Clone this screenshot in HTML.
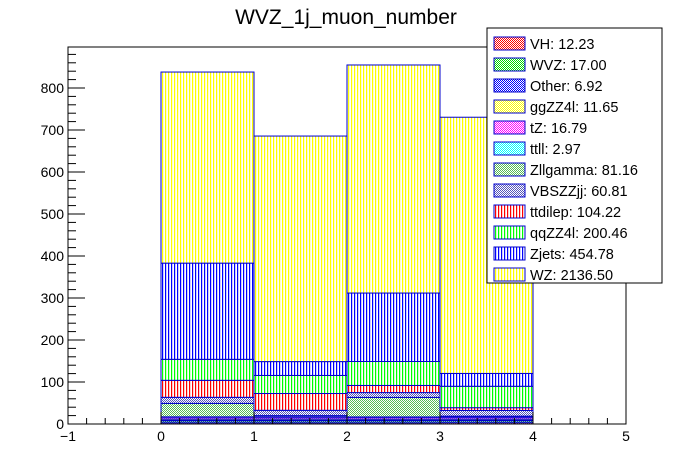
<!DOCTYPE html>
<html><head><meta charset="utf-8"><style>
body{margin:0;background:#fff;}
svg{display:block;font-family:"Liberation Sans",Arial,sans-serif;}
</style></head><body>
<svg id="c" width="696" height="472">
<defs>
<pattern id="vY" width="3" height="4" patternUnits="userSpaceOnUse"><rect width="3" height="4" fill="#fff"/><rect width="1.2" height="4" fill="#ffff00"/></pattern>
<pattern id="vB" width="3" height="4" patternUnits="userSpaceOnUse"><rect width="3" height="4" fill="#fff"/><rect width="1.2" height="4" fill="#0000ff"/></pattern>
<pattern id="vG" width="3" height="4" patternUnits="userSpaceOnUse"><rect width="3" height="4" fill="#fff"/><rect width="1.2" height="4" fill="#00ff00"/></pattern>
<pattern id="vR" width="3" height="4" patternUnits="userSpaceOnUse"><rect width="3" height="4" fill="#fff"/><rect width="1.2" height="4" fill="#ff0000"/></pattern>
<pattern id="xR" width="2" height="2" patternUnits="userSpaceOnUse"><rect width="2" height="2" fill="#fff"/><rect width="1" height="1" fill="#ff0000"/><rect x="1" y="1" width="1" height="1" fill="#ff0000"/></pattern>
<pattern id="xG" width="2" height="2" patternUnits="userSpaceOnUse"><rect width="2" height="2" fill="#fff"/><rect width="1" height="1" fill="#00dd00"/><rect x="1" y="1" width="1" height="1" fill="#00dd00"/></pattern>
<pattern id="xB" width="2" height="2" patternUnits="userSpaceOnUse"><rect width="2" height="2" fill="#fff"/><rect width="1" height="1" fill="#0000ff"/><rect x="1" y="1" width="1" height="1" fill="#0000ff"/></pattern>
<pattern id="xY" width="2" height="2" patternUnits="userSpaceOnUse"><rect width="2" height="2" fill="#fff"/><rect width="1" height="1" fill="#ffff00"/><rect x="1" y="1" width="1" height="1" fill="#ffff00"/></pattern>
<pattern id="xM" width="2" height="2" patternUnits="userSpaceOnUse"><rect width="2" height="2" fill="#fff"/><rect width="1" height="1" fill="#ff00ff"/><rect x="1" y="1" width="1" height="1" fill="#ff00ff"/></pattern>
<pattern id="xC" width="2" height="2" patternUnits="userSpaceOnUse"><rect width="2" height="2" fill="#fff"/><rect width="1" height="1" fill="#00ffff"/><rect x="1" y="1" width="1" height="1" fill="#00ffff"/></pattern>
<pattern id="xZ" width="2" height="2" patternUnits="userSpaceOnUse"><rect width="2" height="2" fill="#fff"/><rect width="1" height="1" fill="#55bb55"/><rect x="1" y="1" width="1" height="1" fill="#55bb55"/></pattern>
<pattern id="xV" width="2" height="2" patternUnits="userSpaceOnUse"><rect width="2" height="2" fill="#fff"/><rect width="1" height="1" fill="#5555bb"/><rect x="1" y="1" width="1" height="1" fill="#5555bb"/></pattern>
</defs>
<text x="346" y="24" font-size="21" text-anchor="middle">WVZ_1j_muon_number</text>
<g id="bars"></g>
<g id="axes"></g>
<g id="legend"></g>
</svg>
<script>
const binEdges = [0, 1, 2, 3, 4];
const names = ["VH","WVZ","Other","ggZZ4l","tZ","ttll","Zllgamma","VBSZZjj","ttdilep","qqZZ4l","Zjets","WZ"];
const legendLabels = ["VH: 12.23","WVZ: 17.00","Other: 6.92","ggZZ4l: 11.65","tZ: 16.79","ttll: 2.97","Zllgamma: 81.16","VBSZZjj: 60.81","ttdilep: 104.22","qqZZ4l: 200.46","Zjets: 454.78","WZ: 2136.50"];
const VH = [3, 3, 3, 3.2];
const WVZ = [4.3, 4.3, 4.2, 4.2];
const Other = [1.7, 1.7, 1.8, 1.7];
const ggZZ4l = [3, 3, 2.8, 2.8];
const tZ = [4.2, 4.2, 4.2, 4.2];
const ttll = [0.8, 0.8, 0.8, 0.6];
const Zllgamma = [32, 3, 46.5, 2];
const VBSZZjj = [14.5, 12.6, 11.5, 13.6];
const ttdilep = [40.5, 40, 17, 6.5];
const qqZZ4l = [50, 43, 57, 51];
const Zjets = [229, 33, 163, 30.6];
const WZ = [455, 537, 543, 610];
const series = [VH,WVZ,Other,ggZZ4l,tZ,ttll,Zllgamma,VBSZZjj,ttdilep,qqZZ4l,Zjets,WZ];
const fills = ["url(#xR)","url(#xG)","url(#xB)","url(#xY)","url(#xM)","url(#xC)","url(#xZ)","url(#xV)","url(#vR)","url(#vG)","url(#vB)","url(#vY)"];
const xTicks = [-1,0,1,2,3,4,5];
const yTicks = [0,100,200,300,400,500,600,700,800];

const L=68,R=626,T=47,B=424;
const xMin=-1,xMax=5,yMax=(B-T)/0.42;
const X=v=>L+(v-xMin)/(xMax-xMin)*(R-L);
const Y=v=>B-v*0.42;
const NS="http://www.w3.org/2000/svg";
function mk(t,a,p){const e=document.createElementNS(NS,t);for(const k in a)e.setAttribute(k,a[k]);p.appendChild(e);return e;}
const bars=document.getElementById('bars'),axes=document.getElementById('axes'),leg=document.getElementById('legend');
const cum=[0,0,0,0];
series.forEach((s,si)=>{
  s.forEach((v,bi)=>{
    const y0=Y(cum[bi]),y1=Y(cum[bi]+v);
    const r=mk('rect',{x:X(binEdges[bi]),y:y1,width:X(binEdges[bi+1])-X(binEdges[bi]),height:Math.max(0,y0-y1),fill:fills[si],stroke:'#0000cc','stroke-width':1},bars);
    
    
    cum[bi]+=v;
  });
});
mk('rect',{x:L,y:T,width:R-L,height:B-T,fill:'none',stroke:'#000','stroke-width':1},axes);
xTicks.forEach(t=>{
  const x=X(t);
  mk('line',{x1:x,x2:x,y1:B,y2:B-12,stroke:'#000'},axes);
  const tx=mk('text',{x:x,y:B+17,'font-size':14,'text-anchor':'middle'},axes);tx.textContent=t===-1?'\u22121':String(t);
  
  
  if(t<5)for(let m=1;m<5;m++){const xm=X(t+m*0.2);mk('line',{x1:xm,x2:xm,y1:B,y2:B-6,stroke:'#000'},axes);}
});
yTicks.forEach(t=>{
  const y=Y(t);
  mk('line',{x1:L,x2:L+17,y1:y,y2:y,stroke:'#000'},axes);
  const tx=mk('text',{x:L-4,y:y+5,'font-size':14,'text-anchor':'end'},axes);tx.textContent=String(t);
  
  
});
for(let v=0;v<=yMax;v+=20){if(v%100)mk('line',{x1:L,x2:L+8,y1:Y(v),y2:Y(v),stroke:'#000'},axes);}
mk('rect',{x:487,y:28,width:175,height:255,fill:'#fff',stroke:'#000','stroke-width':1},leg);
legendLabels.forEach((lab,i)=>{
  const y=36+i*21;
  const r=mk('rect',{x:494,y:y+1,width:31,height:13,fill:fills[i],stroke:'#0000cc'},leg);
  
  
  const t=mk('text',{x:530,y:y+13,'font-size':14.5},leg);t.textContent=lab;
  
  
});
</script>
</body></html>
